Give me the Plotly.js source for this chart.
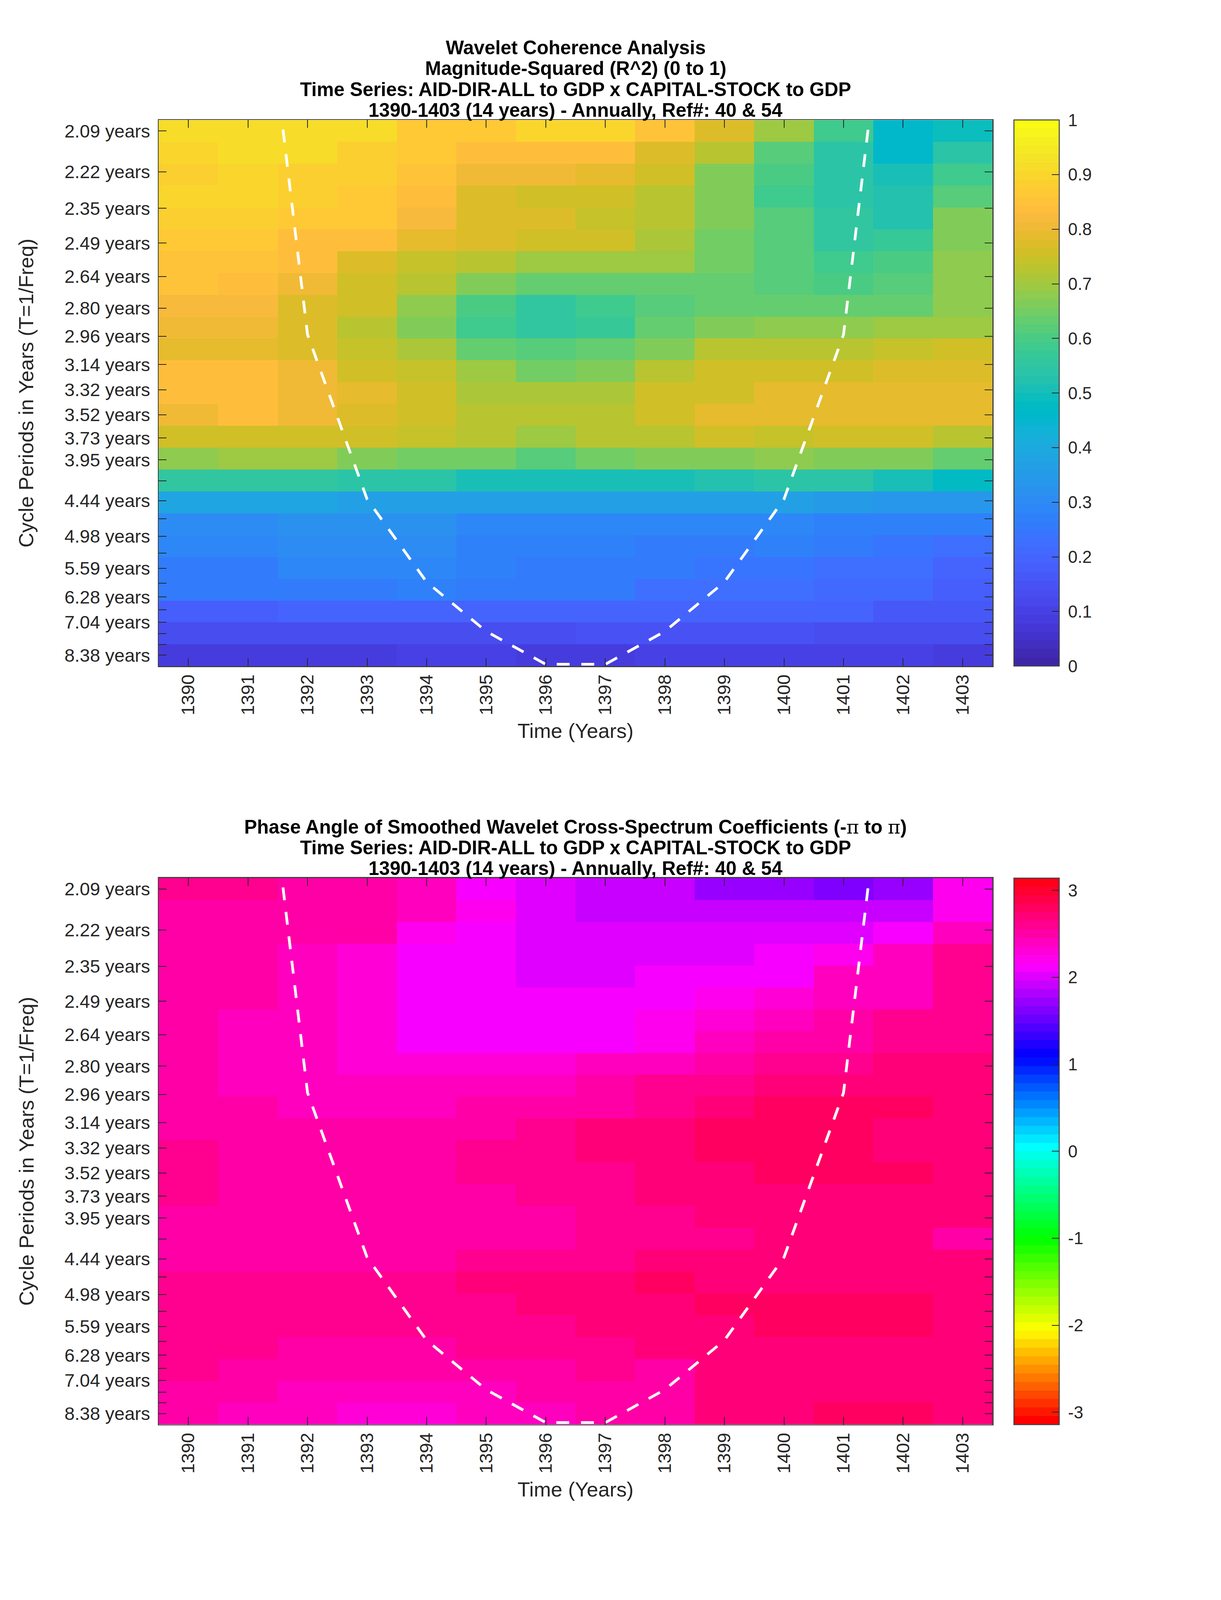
<!DOCTYPE html>
<html><head><meta charset="utf-8">
<script src="https://cdn.plot.ly/plotly-3.0.1.min.js"></script>
<style>html,body{margin:0;padding:0;background:#fff;overflow:hidden}</style>
</head><body><div id="chart"></div>
<script>
const years = [1390,1391,1392,1393,1394,1395,1396,1397,1398,1399,1400,1401,1402,1403];
const periods = [2.09,2.22,2.35,2.49,2.64,2.80,2.96,3.14,3.32,3.52,3.73,3.95,4.19,4.44,4.70,4.98,5.28,5.59,5.93,6.28,6.65,7.04,7.46,7.90,8.38];
const periodLabels = ['2.09 years','2.22 years','2.35 years','2.49 years','2.64 years','2.80 years','2.96 years','3.14 years','3.32 years','3.52 years','3.73 years','3.95 years','','4.44 years','','4.98 years','','5.59 years','','6.28 years','','7.04 years','','','8.38 years'];
const coiYears = [1391,1392,1393,1394,1395,1396,1397,1398,1399,1400,1401,1402];
const coiPeriods = [1.47,2.95,4.42,5.90,7.37,8.84,8.84,7.37,5.90,4.42,2.95,1.47];

const magnitude = [
[.92,.92,.92,.91,.87,.87,.90,.90,.85,.77,.69,.58,.46,.49],
[.90,.92,.91,.89,.87,.84,.84,.83,.77,.72,.62,.54,.46,.54],
[.89,.905,.89,.89,.85,.81,.81,.79,.75,.67,.60,.54,.50,.58],
[.90,.895,.88,.87,.83,.78,.76,.76,.72,.67,.59,.54,.52,.62],
[.89,.89,.87,.87,.82,.78,.77,.74,.72,.67,.61,.55,.53,.67],
[.87,.87,.84,.83,.79,.77,.75,.75,.71,.65,.61,.56,.57,.67],
[.855,.855,.83,.78,.74,.72,.70,.70,.70,.65,.62,.58,.60,.68],
[.85,.84,.80,.76,.72,.67,.63,.63,.63,.64,.62,.60,.62,.68],
[.82,.82,.78,.75,.68,.60,.56,.58,.61,.64,.64,.64,.63,.68],
[.80,.80,.77,.73,.67,.58,.56,.57,.64,.66,.68,.68,.69,.70],
[.79,.79,.77,.74,.71,.63,.61,.63,.67,.72,.73,.73,.74,.75],
[.83,.83,.80,.76,.74,.69,.65,.67,.72,.76,.76,.76,.78,.78],
[.84,.84,.81,.79,.76,.71,.71,.71,.75,.76,.79,.79,.79,.79],
[.81,.84,.81,.78,.76,.73,.73,.73,.75,.79,.79,.79,.79,.79],
[.76,.76,.76,.76,.74,.72,.70,.73,.72,.75,.74,.75,.75,.72],
[.68,.69,.69,.67,.65,.65,.62,.65,.67,.67,.68,.66,.66,.63],
[.55,.55,.56,.54,.54,.51,.50,.50,.50,.53,.54,.54,.51,.47],
[.39,.39,.38,.37,.37,.37,.37,.37,.37,.37,.36,.35,.34,.34],
[.30,.30,.32,.32,.32,.29,.29,.29,.29,.29,.29,.28,.27,.27],
[.29,.29,.30,.31,.31,.28,.28,.28,.26,.26,.27,.25,.24,.23],
[.26,.26,.29,.29,.29,.28,.26,.26,.26,.24,.24,.22,.22,.20],
[.25,.25,.26,.26,.28,.26,.26,.26,.23,.23,.23,.21,.21,.18],
[.18,.18,.20,.20,.20,.20,.20,.20,.20,.19,.19,.19,.16,.16],
[.14,.14,.14,.14,.14,.14,.14,.15,.15,.15,.15,.13,.13,.13],
[.08,.08,.08,.08,.10,.10,.09,.09,.10,.10,.10,.10,.10,.09]];

const phase = [
[2.56,2.56,2.50,2.46,2.38,2.15,1.97,1.87,1.87,1.75,1.75,1.60,1.75,2.20],
[2.47,2.47,2.50,2.50,2.40,2.20,1.97,1.87,1.87,1.87,1.87,1.87,1.95,2.20],
[2.47,2.47,2.47,2.47,2.20,2.15,1.97,1.97,1.97,1.97,1.97,1.97,2.15,2.38],
[2.47,2.47,2.38,2.28,2.15,2.15,1.97,1.97,1.97,1.97,2.10,2.20,2.38,2.56],
[2.47,2.47,2.38,2.28,2.15,2.15,1.97,1.97,2.10,2.10,2.10,2.40,2.40,2.56],
[2.47,2.47,2.38,2.30,2.15,2.12,2.12,2.12,2.12,2.20,2.30,2.40,2.40,2.56],
[2.47,2.38,2.38,2.30,2.15,2.12,2.12,2.12,2.20,2.30,2.40,2.47,2.56,2.56],
[2.47,2.38,2.38,2.30,2.15,2.12,2.12,2.12,2.20,2.38,2.47,2.47,2.56,2.56],
[2.47,2.38,2.38,2.28,2.28,2.28,2.28,2.38,2.38,2.47,2.56,2.56,2.68,2.68],
[2.47,2.38,2.38,2.38,2.38,2.38,2.38,2.47,2.56,2.56,2.74,2.74,2.74,2.74],
[2.47,2.47,2.38,2.38,2.38,2.47,2.47,2.47,2.56,2.68,2.83,2.83,2.83,2.68],
[2.47,2.47,2.47,2.47,2.47,2.47,2.56,2.68,2.68,2.83,2.83,2.83,2.74,2.74],
[2.56,2.47,2.47,2.47,2.47,2.56,2.56,2.68,2.68,2.83,2.83,2.83,2.74,2.74],
[2.56,2.47,2.47,2.47,2.47,2.56,2.56,2.56,2.68,2.68,2.83,2.83,2.83,2.68],
[2.60,2.47,2.47,2.47,2.47,2.47,2.56,2.56,2.68,2.68,2.74,2.74,2.74,2.68],
[2.47,2.47,2.47,2.47,2.47,2.47,2.47,2.56,2.56,2.68,2.68,2.68,2.68,2.68],
[2.47,2.47,2.47,2.47,2.47,2.47,2.47,2.56,2.56,2.56,2.68,2.68,2.68,2.47],
[2.47,2.47,2.47,2.47,2.47,2.56,2.56,2.56,2.68,2.68,2.68,2.68,2.68,2.68],
[2.60,2.60,2.60,2.60,2.60,2.72,2.72,2.72,2.78,2.72,2.72,2.72,2.72,2.72],
[2.60,2.60,2.60,2.60,2.60,2.60,2.72,2.72,2.72,2.78,2.82,2.82,2.82,2.68],
[2.60,2.60,2.60,2.60,2.60,2.60,2.60,2.74,2.74,2.74,2.82,2.82,2.82,2.68],
[2.60,2.60,2.47,2.47,2.47,2.60,2.60,2.60,2.74,2.68,2.68,2.68,2.68,2.68],
[2.60,2.47,2.47,2.47,2.47,2.47,2.47,2.60,2.50,2.68,2.68,2.68,2.68,2.68],
[2.47,2.47,2.38,2.38,2.38,2.38,2.47,2.47,2.50,2.68,2.68,2.68,2.68,2.68],
[2.47,2.38,2.38,2.30,2.30,2.38,2.38,2.47,2.47,2.68,2.68,2.78,2.78,2.68]];

const title1Lines = ['Wavelet Coherence Analysis','Magnitude-Squared (R^2) (0 to 1)','Time Series: AID-DIR-ALL to GDP x CAPITAL-STOCK to GDP','1390-1403 (14 years) - Annually, Ref#: 40 & 54'];
const title2Lines = ['Phase Angle of Smoothed Wavelet Cross-Spectrum Coefficients (-<span style="font-family:\'DejaVu Serif\';font-weight:normal">π</span> to <span style="font-family:\'DejaVu Serif\';font-weight:normal">π</span>)','Time Series: AID-DIR-ALL to GDP x CAPITAL-STOCK to GDP','1390-1403 (14 years) - Annually, Ref#: 40 & 54'];
const xTitle = 'Time (Years)';
const yTitle = 'Cycle Periods in Years (T=1/Freq)';

const parula = [[.2422,.1504,.6603],[.2504,.1650,.7076],[.2578,.1818,.7511],[.2647,.1978,.7952],[.2706,.2147,.8364],[.2751,.2342,.8710],[.2783,.2559,.8991],[.2803,.2782,.9221],[.2813,.3006,.9414],[.2810,.3228,.9579],[.2795,.3447,.9717],[.2760,.3667,.9829],[.2699,.3892,.9906],[.2602,.4123,.9952],[.2440,.4358,.9988],[.2206,.4603,.9973],[.1963,.4847,.9892],[.1834,.5074,.9798],[.1786,.5289,.9682],[.1764,.5499,.9520],[.1687,.5703,.9359],[.1540,.5902,.9218],[.1460,.6091,.9079],[.1380,.6276,.8973],[.1248,.6459,.8883],[.1113,.6635,.8763],[.0952,.6798,.8598],[.0689,.6948,.8394],[.0297,.7082,.8163],[.0036,.7203,.7917],[.0067,.7312,.7660],[.0433,.7411,.7394],[.0964,.7500,.7120],[.1408,.7584,.6842],[.1717,.7670,.6554],[.1938,.7758,.6251],[.2161,.7843,.5923],[.2470,.7918,.5567],[.2906,.7973,.5188],[.3406,.8008,.4789],[.3909,.8029,.4354],[.4456,.8024,.3909],[.5044,.7993,.3480],[.5616,.7942,.3045],[.6174,.7876,.2612],[.6720,.7793,.2227],[.7242,.7698,.1910],[.7738,.7598,.1646],[.8203,.7498,.1535],[.8634,.7406,.1596],[.9035,.7330,.1774],[.9393,.7288,.2100],[.9728,.7298,.2394],[.9956,.7434,.2371],[.9970,.7659,.2199],[.9952,.7893,.2028],[.9892,.8136,.1885],[.9786,.8386,.1766],[.9676,.8639,.1643],[.9610,.8890,.1537],[.9597,.9135,.1423],[.9628,.9373,.1265],[.9691,.9606,.1064],[.9769,.9839,.0805]];
function hsvRow(i){const h=i/64*6,k=Math.floor(h),f=h-k;return [[1,f,0],[1-f,1,0],[0,1,f],[0,1-f,1],[f,0,1],[1,0,1-f]][k];}
const hsvMap = Array.from({length:64},(_,i)=>hsvRow(i));
function stepped(map){const out=[];map.forEach((c,i)=>{const s='rgb('+c.map(v=>Math.round(v*255)).join(',')+')';out.push([i/64,s],[(i+1)/64,s]);});return out;}

// Layout is written for a 3125x6252 page. If the window is shorter, the vertical
// layout is fitted to it (all marks and text stay visible) and the fonts shrink with it.
const W=3125,H=6252,L=406,R=2540,CL=2595;
const sy=Math.min(1,(window.innerHeight||H)/H), fs=Math.sqrt(sy), PH=Math.floor(H*sy);
const titleSize=64.5*(sy<1?sy/0.86:1);
const tops=[469,3431], bottoms=[2603,5566];
const f0=1/periods[0], fN=1/periods[periods.length-1], dy=(f0-fN)/(periods.length-1);
const textCol='#262626', lineCol='#404040', mono='"Liberation Sans",Arial,sans-serif';

function heat(z,cs,zmin,zmax,ticks,i){
  return {type:'heatmap',z:z,x:years,y0:f0,dy:-dy,xaxis:i?'x2':'x',yaxis:i?'y2':'y',colorscale:cs,zmin:zmin,zmax:zmax,hoverinfo:'skip',
    colorbar:{x:CL/W,xanchor:'left',xpad:0,y:1-tops[i]/H,yanchor:'top',ypad:0,len:(bottoms[i]-tops[i])/H,lenmode:'fraction',thickness:116,thicknessmode:'pixels',
      outlinecolor:lineCol,outlinewidth:2.5,ticks:'inside',ticklen:20,tickwidth:2,tickcolor:textCol,tickmode:'array',tickvals:ticks,ticktext:ticks.map(v=>'\u00a0'+v),
      tickfont:{family:mono,size:54*fs,color:textCol},ticklabelposition:'outside'}};
}
function coi(i){
  return {type:'scatter',mode:'lines',x:coiYears,y:coiPeriods.map(p=>1/p),xaxis:i?'x2':'x',yaxis:i?'y2':'y',line:{color:'#fff',width:7,dash:'33px,30px'},hoverinfo:'skip',showlegend:false};
}
function xAxis(i){return {domain:[L/W,R/W],anchor:i?'y2':'y',range:[1389.5,1403.5],tickmode:'array',tickvals:years,ticktext:years.map(String),tickangle:-90,
  ticks:'inside',ticklen:20,tickwidth:2,tickcolor:textCol,showline:true,linecolor:lineCol,linewidth:2.5,mirror:'ticks',showgrid:false,zeroline:false,
  tickfont:{family:mono,size:58*fs,color:textCol},ticklabelstandoff:10*fs,title:{text:xTitle,font:{family:mono,size:65*fs,color:textCol},standoff:28*fs},automargin:false};}
function yAxis(i){return {domain:[1-bottoms[i]/H,1-tops[i]/H],anchor:i?'x2':'x',range:[fN-dy/2,f0+dy/2],tickmode:'array',tickvals:periods.map(p=>1/p),ticktext:periodLabels,
  ticks:'inside',ticklen:20,tickwidth:2,tickcolor:textCol,showline:true,linecolor:lineCol,linewidth:2.5,mirror:'ticks',showgrid:false,zeroline:false,
  tickfont:{family:mono,size:58*fs,color:textCol},ticklabelstandoff:10,title:{text:yTitle,font:{family:mono,size:65*fs,color:textCol},standoff:11+(1-fs)*269},automargin:false};}

const annotations=[];
function addTitle(lines,ys){lines.forEach((t,k)=>annotations.push({xref:'paper',yref:'paper',x:(L+R)/2/W,y:1-ys[k]/H,xanchor:'center',yanchor:'middle',showarrow:false,text:'<b>'+t+'</b>',font:{family:mono,size:titleSize,color:'#000'}}));}
addTitle(title1Lines,[186,267,349,430]);
addTitle(title2Lines,[3231,3312,3393]);

Plotly.newPlot('chart',[
  heat(magnitude,stepped(parula),0,1,[0,.1,.2,.3,.4,.5,.6,.7,.8,.9,1],0),coi(0),
  heat(phase,stepped(hsvMap),-Math.PI,Math.PI,[-3,-2,-1,0,1,2,3],1),coi(1)
],{width:W,height:PH,margin:{l:0,r:0,t:0,b:0},paper_bgcolor:'#fff',plot_bgcolor:'#fff',showlegend:false,hovermode:false,
  xaxis:xAxis(0),yaxis:yAxis(0),xaxis2:xAxis(1),yaxis2:yAxis(1),annotations:annotations},{staticPlot:true,displayModeBar:false});
</script></body></html>
